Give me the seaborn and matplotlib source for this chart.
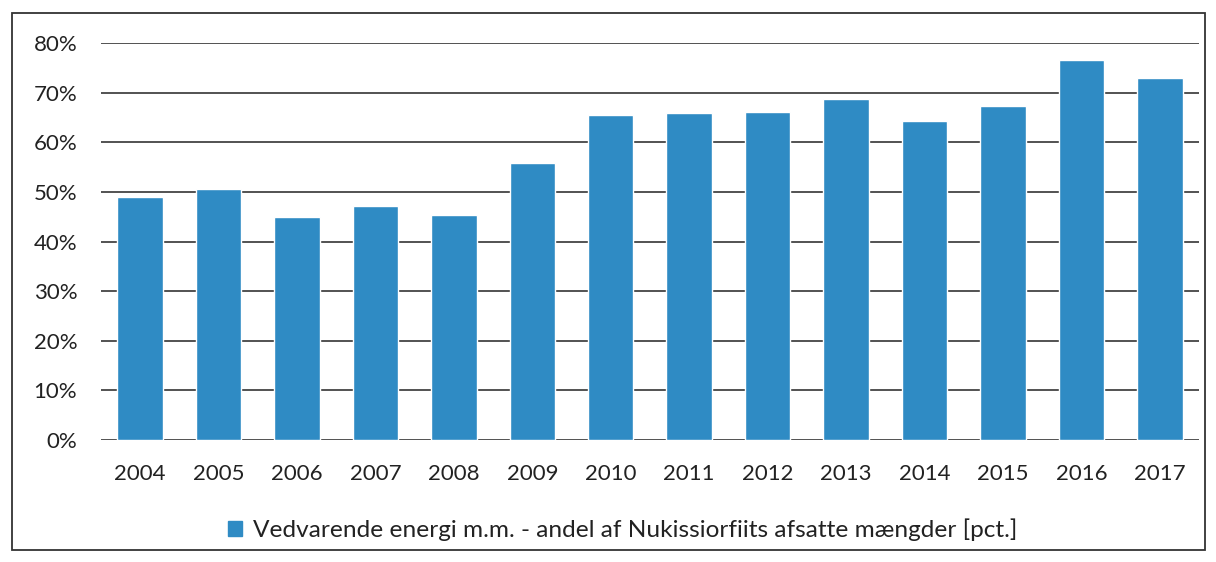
import matplotlib
matplotlib.use('Agg')
import matplotlib.pyplot as plt
import matplotlib.patches as mpatches
import numpy as np
import pandas as pd
import seaborn as sns

years = ['2004', '2005', '2006', '2007', '2008', '2009', '2010',
         '2011', '2012', '2013', '2014', '2015', '2016', '2017']
andel = [0.490, 0.507, 0.450, 0.472, 0.454, 0.558, 0.655,
         0.659, 0.662, 0.688, 0.644, 0.674, 0.766, 0.729]
serie = 'Vedvarende energi m.m. - andel af Nukissiorfiits afsatte mængder [pct.]'

df = pd.DataFrame({'year': years, 'andel': andel})

sns.set_style('white')
plt.rcParams['font.family'] = ['Lato', 'DejaVu Sans']

fig = plt.figure(figsize=(12.16, 5.62), dpi=100)
ax = fig.add_axes([0.083, 0.217, 0.903, 0.706])

bar_color = '#2f8bc4'
sns.barplot(data=df, x='year', y='andel', color=bar_color, width=0.58,
            saturation=1, ax=ax, zorder=3)

ax.set_ylim(0, 0.8)
ax.set_xlim(-0.5, len(years) - 0.5)
ax.set_yticks(np.arange(0, 0.81, 0.1))
ax.set_yticklabels([f'{int(round(v * 100))}%' for v in np.arange(0, 0.81, 0.1)])
ax.yaxis.grid(True, color='#444444', linewidth=1.3, zorder=0)
ax.set_axisbelow(True)
for s in ax.spines.values():
    s.set_visible(False)
ax.tick_params(axis='both', length=0, labelsize=16, colors='#222222')
ax.tick_params(axis='x', pad=17.5)
ax.tick_params(axis='y', pad=17)
ax.set_xlabel('')
ax.set_ylabel('')

handle = mpatches.Patch(color=bar_color, label=serie)
fig.legend(handles=[handle], loc='center', bbox_to_anchor=(0.512, 0.057),
           frameon=False, fontsize=17.6, handlelength=0.55, handleheight=0.55,
           handletextpad=0.45, labelcolor='#222222')

# thin frame around the whole chart
fig.add_artist(mpatches.Rectangle((0.010, 0.021), 0.981, 0.955,
                                  transform=fig.transFigure, fill=False,
                                  edgecolor='#333333', linewidth=1.3))

fig.savefig('out.png', dpi=100)
